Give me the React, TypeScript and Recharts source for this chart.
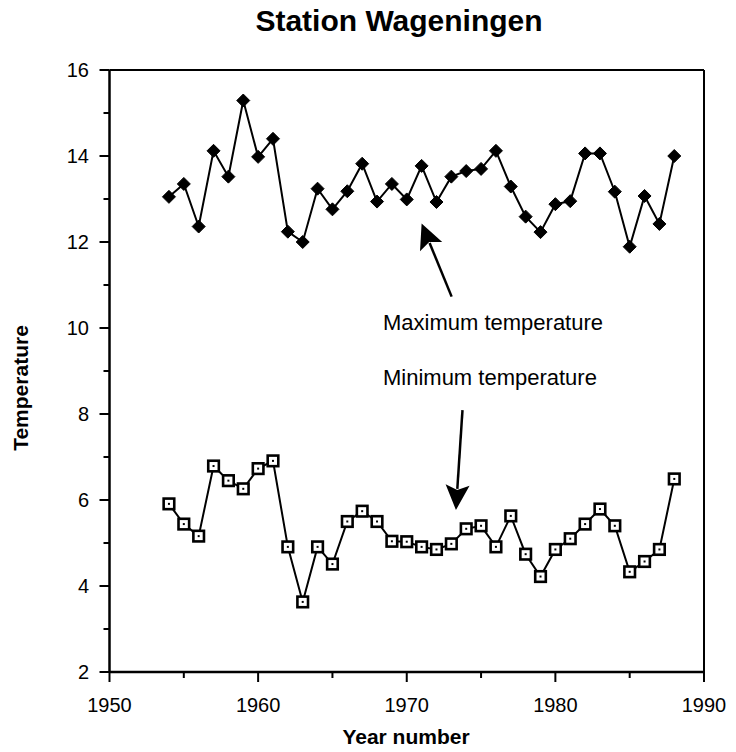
import React from 'react';
import { LineChart, Line, XAxis, YAxis, ReferenceLine, ReferenceDot } from 'recharts';

const years = [1954, 1955, 1956, 1957, 1958, 1959, 1960, 1961, 1962, 1963, 1964, 1965, 1966, 1967, 1968, 1969, 1970, 1971, 1972, 1973, 1974, 1975, 1976, 1977, 1978, 1979, 1980, 1981, 1982, 1983, 1984, 1985, 1986, 1987, 1988];
const maxTemp = [13.05, 13.35, 12.36, 14.12, 13.52, 15.29, 13.98, 14.4, 12.24, 12.0, 13.24, 12.76, 13.18, 13.82, 12.94, 13.35, 12.99, 13.77, 12.93, 13.52, 13.65, 13.7, 14.12, 13.29, 12.59, 12.23, 12.88, 12.95, 14.06, 14.06, 13.17, 11.89, 13.07, 12.42, 14.0];
const minTemp = [5.91, 5.44, 5.16, 6.79, 6.45, 6.26, 6.73, 6.91, 4.91, 3.63, 4.91, 4.51, 5.5, 5.74, 5.5, 5.04, 5.03, 4.91, 4.85, 4.98, 5.33, 5.4, 4.91, 5.63, 4.74, 4.22, 4.85, 5.1, 5.44, 5.79, 5.4, 4.33, 4.57, 4.85, 6.49];
const xTicks = [1950, 1955, 1960, 1965, 1970, 1975, 1980, 1985, 1990];
const yTicks = [2, 3, 4, 5, 6, 7, 8, 9, 10, 11, 12, 13, 14, 15, 16];
const title = 'Station Wageningen';
const xTitle = 'Year number';
const yTitle = 'Temperature';
const maxLabel = 'Maximum temperature';
const minLabel = 'Minimum temperature';
const maxArrow = [{ x: 1973.02, y: 10.73 }, { x: 1971.0, y: 12.43 }];
const minArrow = [{ x: 1973.75, y: 8.09 }, { x: 1973.31, y: 5.77 }];
const maxLabelPos = { x: 1968.4, y: 9.95 };
const minLabelPos = { x: 1968.4, y: 8.67 };

const data = years.map((y, i) => ({ year: y, max: maxTemp[i], min: minTemp[i] }));

const FONT = '"Liberation Sans", Arial, sans-serif';

const XTick = (props: any) => {
  const { x, y, payload } = props;
  const major = payload.value % 10 === 0;
  return (
    <g>
      <line x1={x} y1={y} x2={x} y2={y + (major ? 10 : 6)} stroke="#000" strokeWidth={2} />
      {major && (
        <text x={x} y={y + 40} textAnchor="middle" fontSize={20} fontFamily={FONT} fill="#000">
          {payload.value}
        </text>
      )}
    </g>
  );
};

const YTick = (props: any) => {
  const { x, y, payload } = props;
  const major = payload.value % 2 === 0;
  return (
    <g>
      <line x1={x} y1={y} x2={x - (major ? 10 : 6)} y2={y} stroke="#000" strokeWidth={2} />
      {major && (
        <text x={x - 20.5} y={y + 7} textAnchor="end" fontSize={20} fontFamily={FONT} fill="#000">
          {payload.value}
        </text>
      )}
    </g>
  );
};

const DiamondDot = (props: any) => {
  const { cx, cy, index } = props;
  if (cx == null || cy == null) return <g key={`d${index}`} />;
  const s = 6.5;
  return (
    <polygon
      key={`d${index}`}
      points={`${cx},${cy - s} ${cx + s},${cy} ${cx},${cy + s} ${cx - s},${cy}`}
      fill="#000"
      stroke="#000"
      strokeWidth={1}
    />
  );
};

const SquareDot = (props: any) => {
  const { cx, cy, index } = props;
  if (cx == null || cy == null) return <g key={`s${index}`} />;
  const s = 5.3;
  return (
    <g key={`s${index}`}>
      <rect x={cx - s} y={cy - s} width={2 * s} height={2 * s} fill="#fff" stroke="#000" strokeWidth={2.6} />
      <rect x={cx - 1} y={cy - 1} width={2} height={2} fill="#000" />
    </g>
  );
};

const Arrow = (p: any) => {
  const { x1, y1, x2, y2 } = p;
  const dx = x2 - x1;
  const dy = y2 - y1;
  const L = Math.hypot(dx, dy) || 1;
  const ux = dx / L;
  const uy = dy / L;
  const hl = 25;
  const hw = 12;
  const bx = x2 - ux * hl;
  const by = y2 - uy * hl;
  const px = -uy;
  const py = ux;
  return (
    <g>
      <line x1={x1} y1={y1} x2={bx + ux * 4} y2={by + uy * 4} stroke="#000" strokeWidth={2.5} />
      <polygon
        points={`${x2},${y2} ${bx + px * hw},${by + py * hw} ${bx + ux * 5},${by + uy * 5} ${bx - px * hw},${by - py * hw}`}
        fill="#000"
      />
    </g>
  );
};

const makeTextShape = (txt: string) => (p: any) => (
  <text x={p.cx} y={p.cy} fontSize={22} fontFamily={FONT} fill="#000">
    {txt}
  </text>
);

export default function App() {
  return (
    <div style={{ position: 'relative', width: 720, height: 736 }}>
      <LineChart width={720} height={736} data={data} margin={{ top: 62, right: 24, bottom: 16, left: 21.5 }}>
        <XAxis
          dataKey="year"
          type="number"
          domain={[1950, 1990]}
          ticks={xTicks}
          interval={0}
          tickSize={0}
          tickMargin={0}
          tickLine={false}
          tick={XTick}
          height={56}
          axisLine={{ stroke: '#000', strokeWidth: 2.5 }}
        />
        <YAxis
          type="number"
          domain={[2, 16]}
          ticks={yTicks}
          interval={0}
          tickSize={0}
          tickMargin={0}
          tickLine={false}
          tick={YTick}
          width={80}
          axisLine={{ stroke: '#000', strokeWidth: 2.5 }}
        />
        <ReferenceLine y={16} stroke="#000" strokeWidth={2} />
        <ReferenceLine x={1990} stroke="#000" strokeWidth={2} />
        <Line
          dataKey="max"
          stroke="#000"
          strokeWidth={2}
          dot={DiamondDot}
          activeDot={false}
          isAnimationActive={false}
        />
        <Line
          dataKey="min"
          stroke="#000"
          strokeWidth={2}
          dot={SquareDot}
          activeDot={false}
          isAnimationActive={false}
        />
        <ReferenceLine segment={maxArrow} shape={Arrow} />
        <ReferenceLine segment={minArrow} shape={Arrow} />
        <ReferenceDot x={maxLabelPos.x} y={maxLabelPos.y} r={0} shape={makeTextShape(maxLabel)} />
        <ReferenceDot x={minLabelPos.x} y={minLabelPos.y} r={0} shape={makeTextShape(minLabel)} />
      </LineChart>
      <svg
        width={736}
        height={752}
        style={{ position: 'absolute', left: -8, top: -8, pointerEvents: 'none' }}
      >
        <text x={399} y={31} textAnchor="middle" fontSize={30} fontWeight="bold" fontFamily={FONT} fill="#000">
          {title}
        </text>
        <text x={406} y={744} textAnchor="middle" fontSize={21} fontWeight="bold" fontFamily={FONT} fill="#000">
          {xTitle}
        </text>
        <text
          x={28}
          y={388}
          transform="rotate(-90, 28, 388)"
          textAnchor="middle"
          fontSize={21}
          fontWeight="bold"
          fontFamily={FONT}
          fill="#000"
        >
          {yTitle}
        </text>
      </svg>
    </div>
  );
}
